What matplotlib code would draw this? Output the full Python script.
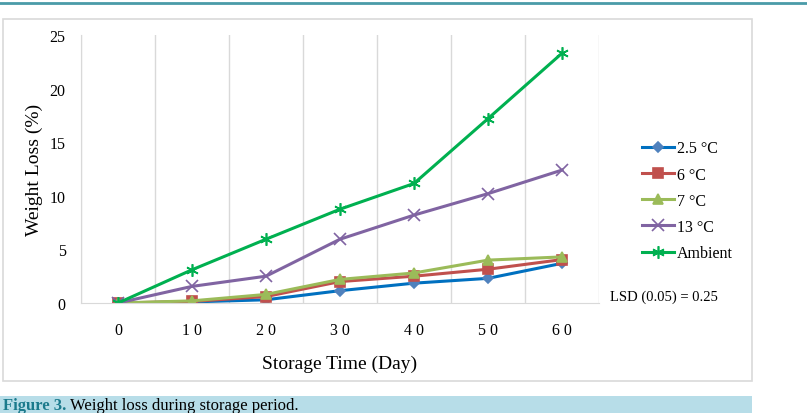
import matplotlib.pyplot as plt
from matplotlib.patches import Rectangle
from matplotlib.lines import Line2D
import numpy as np

plt.rcParams['font.family'] = ['Liberation Serif', 'DejaVu Serif']

days = [0, 10, 20, 30, 40, 50, 60]
loss_2_5 = [0.0, 0.1, 0.3, 1.15, 1.85, 2.3, 3.7]
loss_6 = [0.0, 0.15, 0.6, 2.0, 2.5, 3.15, 4.05]
loss_7 = [0.0, 0.2, 0.8, 2.2, 2.8, 4.0, 4.3]
loss_13 = [0.0, 1.55, 2.5, 5.95, 8.2, 10.2, 12.4]
loss_ambient = [0.0, 3.1, 5.95, 8.75, 11.15, 17.2, 23.3]
labels = ['2.5 °C', '6 °C', '7 °C', '13 °C', 'Ambient']

series = [loss_2_5, loss_6, loss_7, loss_13, loss_ambient]
line_colors = ['#0070C0', '#C0504D', '#9BBB59', '#8064A2', '#00B050']
marker_colors = ['#4F81BD', '#C0504D', '#9BBB59', '#8064A2', '#00B050']
markers = ['D', 's', '^', 'x', (6, 2, 0)]
msizes = [5.5, 7, 7.5, 8, 9]

fig = plt.figure(figsize=(8.07, 4.14), dpi=100)

# page decorations: top rule, chart frame, caption band
fig.add_artist(Line2D([0, 1], [1 - 4 / 414] * 2, color='#4A9BA8', lw=2))
fig.add_artist(Rectangle((3 / 807, 32 / 414), 749 / 807, 362 / 414, fill=False,
                         edgecolor='#D9D9D9', lw=1.2))
fig.add_artist(Rectangle((0, 0), 752 / 807, 17 / 414, facecolor='#B7DDE8', edgecolor='none'))
fig.text(3 / 807, 4 / 414, 'Figure 3.', color='#1B7A8C', fontsize=12, fontweight='bold')
fig.text(70 / 807, 4 / 414, 'Weight loss during storage period.', color='black', fontsize=12)

ax = fig.add_axes([81 / 807, 110 / 414, 518 / 807, 268 / 414])
x = np.arange(len(days))
for vals, lab, lc, mc, mk, ms in zip(series, labels, line_colors, marker_colors, markers, msizes):
    ax.plot(x, vals, color=lc, lw=2.2, marker=mk, markersize=ms, markerfacecolor=mc,
            markeredgecolor=mc, markeredgewidth=1.2, label=lab)

ax.set_xlim(-0.5, len(days) - 0.5)
ax.set_ylim(0, 25)
ax.set_yticks([0, 5, 10, 15, 20, 25])
ax.set_xticks(x)
ax.set_xticklabels([' '.join(str(d)) for d in days])
ax.set_xticks(np.arange(-0.5, len(days), 1), minor=True)
ax.grid(True, which='minor', axis='x', color='#D9D9D9', lw=1)
ax.tick_params(which='both', length=0, labelsize=11.5, colors='black')
ax.tick_params(axis='x', pad=14)
ax.tick_params(axis='y', pad=11)
for s in ['top', 'right']:
    ax.spines[s].set_visible(False)
for s in ['left', 'bottom']:
    ax.spines[s].set_color('#D9D9D9')

ax.set_xlabel('Storage Time (Day)', fontsize=14, labelpad=12)
ax.set_ylabel('Weight Loss (%)', fontsize=14, labelpad=5)

fig.legend(loc='upper left', bbox_to_anchor=(628 / 807, 1 - 127 / 414), frameon=False,
           fontsize=11.5, handlelength=2.0, handletextpad=0.15, labelspacing=0.64)
fig.text(610 / 807, 1 - 297 / 414, 'LSD (0.05) = 0.25', fontsize=10.5, va='center')

fig.savefig('out.png', dpi=100)
